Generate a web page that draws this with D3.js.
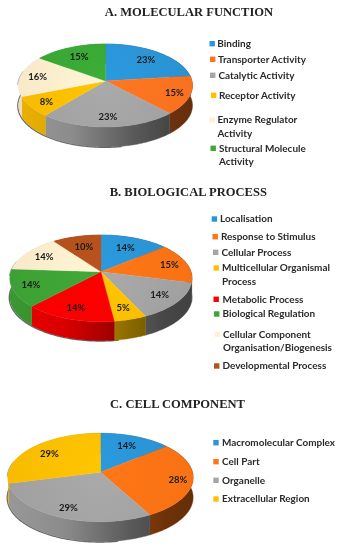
<!DOCTYPE html>
<html><head><meta charset="utf-8">
<script src="https://cdnjs.cloudflare.com/ajax/libs/d3/7.8.5/d3.min.js"></script>
<style>html,body{margin:0;padding:0;background:#fff}svg{display:block;filter:blur(.35px)}</style>
</head><body><svg id="c" width="342" height="550"></svg>
<script>
const titleA = "A. MOLECULAR FUNCTION";
const categoriesA = ["Binding","Transporter Activity","Catalytic Activity","Receptor Activity","Enzyme Regulator\nActivity","Structural Molecule\nActivity"];
const valuesA = [23,15,23,8,16,15];
const titleB = "B. BIOLOGICAL PROCESS";
const categoriesB = ["Localisation","Response to Stimulus","Cellular Process","Multicellular Organismal\nProcess","Metabolic Process","Biological Regulation","Cellular Component\nOrganisation/Biogenesis","Developmental Process"];
const valuesB = [14,15,14,5,14,14,14,10];
const titleC = "C. CELL COMPONENT";
const categoriesC = ["Macromolecular Complex","Cell Part","Organelle","Extracellular Region"];
const valuesC = [14,28,29,29];

const colorsA = ["#2a96d8","#ff7420","#a5a5a5","#ffc000","#fff0cf","#3aa935"];
const colorsB = ["#2a96d8","#ff7414","#a5a5a5","#ffc000","#ff0000","#3fa535","#fff0cf","#b5511c"];
const colorsC = ["#2a96d8","#ff7414","#a5a5a5","#ffc000"];

const layouts = [
 {title:titleA,cats:categoriesA,vals:valuesA,cols:colorsA,tx:189,ty:16,
  cx:105.5,cy:81,rx:86.5,up:37,down:46,depth:20,
  labelR:[.75,.82,.8,.8,.8,.72],
  legY:[43.7,59.3,75.3,95.3,120,148.3],legSq:[209.5,210,210,211,209.5,210.5],legTx:[217.3,218,218.5,219,217.5,219]},
 {title:titleB,cats:categoriesB,vals:valuesB,cols:colorsB,tx:188.3,ty:195.5,
  cx:101,cy:271.7,rx:90,up:36.7,down:50,depth:19,
  labelR:[.7,.8,.78,.78,.8,.8,.76,.68],
  legY:[219,236.7,252.3,268,299.3,314,334.3,366],legSq:[211.7,212.5,213,213.5,213.5,214,215,214],legTx:[220,221,221.5,222,222.5,222.5,223,222.5]},
 {title:titleC,cats:categoriesC,vals:valuesC,cols:colorsC,tx:177.5,ty:408,
  cx:100.5,cy:472.3,rx:92,up:39,down:49.4,depth:20,
  labelR:[.72,.84,.8,.74],
  legY:[442.7,461.7,480.3,499],legSq:[213.3,213.3,213.3,213.3],legTx:[222,222,222,222]}
];
const wallStops = [[0,.92],[.3,.85],[.65,.55],[.85,.43],[1,.4]];

const svg = d3.select("#c");
const defs = svg.append("defs");
let gid = 0;
const line = d3.line().curve(d3.curveLinear);

layouts.forEach(L=>{
  const g = svg.append("g");
  // perspective projection of the unit disc
  const k = (L.up-L.down)/(L.up+L.down), a = L.down*(1+k);
  const proj = (t,r=1,dz=0)=>{
    const u=r*Math.sin(t), v=-r*Math.cos(t), d=1+k*v;
    return [L.cx+L.rx*u/d, L.cy+a*v/d+dz];
  };
  const pie = d3.pie().sort(null).value(d=>d);
  const arcs = pie(L.vals);
  const tick = Math.PI/180;
  const arcPts = (s,e,dz=0)=>d3.range(s,e,tick).concat(e).map(t=>proj(t,1,dz));

  // soft dark lip along the lower left edge
  g.append("path").attr("d",line(arcPts(170*tick,285*tick,L.depth-.2).concat(arcPts(265*tick,285*tick,0).reverse().slice(0,0))))
    .attr("fill","none").attr("stroke","#666").attr("stroke-width",1.4).attr("transform","translate(-.6,.5)");
  g.append("path").attr("d",line(arcPts(265*tick,285*tick,0).map((p,i)=>p)))
    .attr("fill","none").attr("stroke","#777").attr("stroke-width",.8).attr("transform","translate(-.7,.4)");

  // side wall: shading runs left to right across the whole pie
  const wallGroup = g.append("g");
  arcs.forEach((d,i)=>{
    const id="w"+(gid++), c=L.cols[i];
    const lg=defs.append("linearGradient").attr("id",id).attr("gradientUnits","userSpaceOnUse")
      .attr("x1",L.cx-L.rx).attr("x2",L.cx+L.rx).attr("y1",0).attr("y2",0);
    const shade=(f)=>{const q=d3.rgb(c);return d3.rgb(q.r*f,q.g*f,q.b*f).formatHex();};
    wallStops.forEach(s=>lg.append("stop").attr("offset",s[0]).attr("stop-color",shade(s[1])));
    const top=arcPts(d.startAngle,d.endAngle,0), bot=arcPts(d.startAngle,d.endAngle,L.depth).reverse();
    wallGroup.append("path").attr("d",line(top.concat(bot))+"Z").attr("fill",`url(#${id})`)
      .attr("stroke",`url(#${id})`).attr("stroke-width",.4);
  });
  // top faces
  arcs.forEach((d,i)=>{
    const id="t"+(gid++), c=d3.color(L.cols[i]);
    const lg=defs.append("radialGradient").attr("id",id).attr("gradientUnits","userSpaceOnUse")
      .attr("cx",L.cx).attr("cy",L.cy).attr("r",L.rx);
    lg.append("stop").attr("offset",0).attr("stop-color",c.brighter(.08).formatHex());
    lg.append("stop").attr("offset",1).attr("stop-color",c.darker(.08).formatHex());
    g.append("path").attr("d",line([[L.cx,L.cy]].concat(arcPts(d.startAngle,d.endAngle)))+"Z")
      .attr("fill",`url(#${id})`).attr("stroke",`url(#${id})`).attr("stroke-width",.3);
  });
  // percentage labels
  arcs.forEach((d,i)=>{
    const p=proj((d.startAngle+d.endAngle)/2,L.labelR[i]);
    g.append("text").attr("x",p[0]).attr("y",p[1]).attr("dy",".35em").attr("text-anchor","middle")
      .attr("font-family","Lato").attr("font-weight",700).attr("font-size",9.5).attr("fill","#1a1a1a")
      .text(d.value+"%");
  });
  // title
  svg.append("text").attr("x",L.tx).attr("y",L.ty).attr("text-anchor","middle")
    .attr("font-family","Liberation Serif").attr("font-weight",700).attr("font-size",12.55).attr("fill","#222")
    .text(L.title);
  // legend
  L.cats.forEach((c,i)=>{
    const y=L.legY[i];
    svg.append("rect").attr("x",L.legSq[i]).attr("y",y-2.7).attr("width",5.4).attr("height",5.4).attr("fill",L.cols[i]);
    c.split("\n").forEach((t,j)=>{
      svg.append("text").attr("x",L.legTx[i]).attr("y",y+j*13.2).attr("dy",".35em")
        .attr("font-family","Lato").attr("font-weight",700).attr("font-size",9.95).attr("fill","#2a2a2a").text(t);
    });
  });
});
</script></body></html>
